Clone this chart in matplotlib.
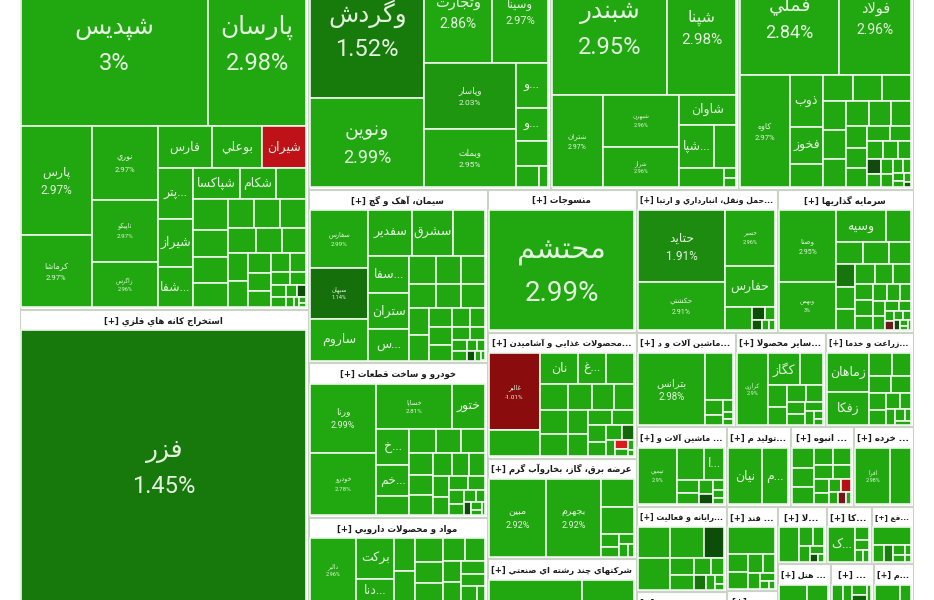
import matplotlib
matplotlib.use("Agg")
import matplotlib.pyplot as plt
from matplotlib.patches import Rectangle
import numpy as np

# ---------------------------------------------------------------
# Data: stock value (market size units) and daily change (%)
# 'h' = children side by side, 'v' = stacked, ('grid', values, pcts) = small unlabeled stocks
# ---------------------------------------------------------------
chem_small_v = [1085, 945, 900, 840, 800, 780, 770, 700, 650, 600, 560, 520, 480, 420,
                380, 340, 300, 260, 220, 180, 150, 120, 100, 80, 60, 40, 30]
chem_small_p = [2.95, 2.9, 2.98, 2.93, 2.9, 2.97, 2.96, 2.9, 2.94, 2.99, 2.92, 2.9, 2.95, 2.88,
                2.97, 2.9, 2.93, 2.96, 2.9, 2.91, 2.98, 2.9, 0.6, 2.9, 2.95, 2.9, 2.9]
metal_small_v = [780, 760, 740, 700, 680, 660, 620, 560, 520, 480, 440, 420, 380, 340,
                 300, 260, 240, 225, 200, 180, 160, 140, 120, 100, 80, 60, 40]
metal_small_p = [2.9, 2.95, 2.97, 2.92, 2.9, 2.96, 2.94, 2.9, 2.98, 2.93, 2.9, 2.95, 2.91, 2.97,
                 2.9, 2.94, 2.9, 0.5, 2.96, 2.9, 2.93, 2.9, 2.95, 2.9, 2.92, 2.9, 0.8]
cement_small_v = [760, 720, 680, 640, 600, 560, 520, 480, 440, 400, 360, 320, 280, 240,
                  200, 170, 140, 110, 90, 70, 50, 40]
cement_small_p = [2.9, 2.95, 2.97, 2.9, 2.93, 2.96, 2.9, 2.94, 2.98, 2.9, 2.92, 2.95, 2.9, 2.97,
                  2.9, 2.93, 2.9, 2.96, 2.9, 0.6, 2.9, 2.9]
food_small_v = [700, 660, 620, 580, 540, 500, 460, 420, 380, 340, 300, 260, 220, 180,
                140, 110, 80, 60, 40]
food_small_p = [2.9, 2.95, 2.97, 2.92, 2.9, 2.96, 2.94, 2.9, 2.98, 2.93, 2.9, 2.95, 2.91, 1.0,
                2.9, -2.9, 2.9, 2.93, 2.9]
auto_small_v = [640, 600, 560, 520, 500, 480, 440, 400, 360, 330, 300, 270, 240, 210,
                180, 150, 120, 100, 80, 60, 40]
auto_small_p = [2.9, 2.95, 2.97, 2.92, 2.9, 2.96, 2.94, 2.9, 2.98, 2.93, 2.9, 2.95, 2.91, 2.97,
                2.9, 2.94, 2.9, 0.5, 2.96, 2.9, 2.93]
pharma_small_v = [680, 660, 640, 560, 520, 480, 440, 400, 360, 320, 280, 240, 120]
pharma_small_p = [2.9, 2.95, 2.97, 2.92, 2.9, 2.96, 2.94, 2.9, 2.98, 2.93, 2.9, 2.95, 2.91]
invest_small_v = [440, 420, 400, 380, 360, 340, 300, 280, 260, 240, 220, 200, 180, 160,
                  140, 120, 100, 90, 80, 70, 60, 50, 40, 30]
invest_small_p = [1.3, 2.9, 2.95, 2.97, 2.92, 2.9, 2.96, 2.94, 2.9, 2.98, 2.93, 2.9, 2.95, 2.91,
                  2.97, 2.9, 2.94, -0.6, 2.9, 2.96, 0.5, 2.9, 2.93, 2.9]
mass_small_v = [400, 380, 340, 300, 280, 240, 220, 200, 160, 140, 120, 100, 80, 60]
mass_small_p = [2.9, 2.95, 2.97, 2.92, 2.9, 2.96, 2.94, 2.9, 2.98, 2.93, -2.2, 2.9, -0.8, 2.9]

chem = ['v',
        ['h', ('شپدیس', 31185, 3.00), ('پارسان', 16335, 2.98)],
        ['h',
         ['v', ('پارس', 7700, 2.97), ('کرماشا', 5100, 2.97)],
         ['v', ('نوري', 4900, 2.97), ('تاپیکو', 4150, 2.97), ('زاگرس', 3000, 2.96)],
         ['v',
          ['h', ('فارس', 2270, 2.95), ('بوعلي', 2100, 2.9), ('شيران', 1850, -2.5)],
          ['h',
           ['v', ('...پتر', 1750, 2.9), ('شيراز', 1680, 2.9), ('...شفا', 1400, 2.9)],
           ['v',
            ['h', ('شپاكسا', 1410, 2.9), ('شكام', 1110, 2.9), ('', 900, 2.9)],
            ('grid', chem_small_v, chem_small_p)]]]]]
mining = ('فزر', 78000, 1.45)
banks = ['h',
         ['v', ('وگردش', 15755, 1.52), ('ونوين', 10235, 2.99)],
         ['v',
          ['h', ('وتجارت', 7004, 2.86), ('وسينا', 5768, 2.97)],
          ['h',
           ['v', ('وپاسار', 5980, 2.03), ('وبملت', 5336, 2.95)],
           ['v', ('...و', 1440, 2.9), ('...و', 1050, 2.9), ('', 810, 2.9),
            ('grid', [500, 200], [2.9, 2.95])]]]]
refinery = ['v',
            ['h', ('شبندر', 15930, 2.95), ('شپنا', 9450, 2.98)],
            ['h', ('شتران', 4836, 2.97),
             ['v', ('شبهرن', 4004, 2.96), ('شراز', 3157, 2.96)],
             ['v', ('شاوان', 1740, 2.9),
              ['h', ('...شپا', 1548, 2.9), ('', 946, 2.9)],
              ['h', ('', 920, 2.9), ('grid', [130, 110], [2.9, 2.94])]]]]
metals = ['v',
          ['h', ('فملي', 11817, 2.84), ('فولاد', 8541, 2.96)],
          ['h', ('کاوه', 5772, 2.97),
           ['v', ('ذوب', 1734, 2.9), ('فخوز', 1258, 2.9), ('', 782, 2.9)],
           ('grid', metal_small_v, metal_small_p)]]
cement = ['h',
          ['v', ('سفارس', 3304, 2.99), ('سبهان', 2950, 1.14), ('ساروم', 2419, 2.9)],
          ['v',
           ['h', ('سفدير', 1936, 2.9), ('سشرق', 1848, 2.9), ('', 1408, 2.9)],
           ['h', ['v', ('...سفا', 1517, 2.9), ('ستران', 1435, 2.9), ('...س', 1271, 2.9)],
            ('grid', cement_small_v, cement_small_p)]]]
textile = ('محتشم', 17500, 2.99)
food = ['h',
        ['v', ('غالبر', 3848, -1.01), ('', 1300, 2.9)],
        ['v', ['h', ('نان', 1140, 2.9), ('...غ', 870, 2.9), ('', 840, 2.9)],
         ('grid', food_small_v, food_small_p)]]
auto = ['h',
        ['v', ('ورنا', 4624, 2.99), ('خودرو', 4216, 2.78)],
        ['v', ['h', ('خساپا', 3496, 2.81), ('ختور', 1518, 2.9)],
         ['h', ['v', ('...خ', 1190, 2.9), ('...خم', 1020, 2.9), ('', 646, 2.9)],
          ('grid', auto_small_v, auto_small_p)]]]
pharma = ['h', ('دالبر', 2914, 2.96),
          ['v', ('برکت', 1520, 2.9), ('...دنا', 836, 2.9)],
          ('grid', pharma_small_v, pharma_small_p)]
power = ['h', ('مبين', 4332, 2.92), ('بجهرم', 4180, 2.92),
         ['v', ('', 891, 2.9), ('', 891, 2.95),
          ('grid', [220, 180, 140, 110, 76], [2.9, 2.96, 2.9, 2.93, 2.9])]]
multi = ['h', ('', 2046, 2.9), ('', 1144, 2.95)]
transport = ['h',
             ['v', ('حتايد', 6090, 1.91), ('حكشتي', 4089, 2.91)],
             ['v', ('حسير', 2700, 2.96), ('حفارس', 2000, 2.9),
              ['h', ('', 621, 2.9), ('grid', [160, 130, 100, 80, 59], [0.6, 2.9, 0.7, 2.9, 2.9])]]]
invest = ['h',
          ['v', ('وصنا', 4130, 2.95), ('وبهمن', 2773, 3.0)],
          ['v', ['h', ('وسيه', 1600, 2.9), ('', 800, 2.9)],
           ['h', ('', 594, 2.9), ('', 572, 2.95), ('', 484, 2.9)],
           ('grid', invest_small_v, invest_small_p)]]
mach1 = ['h', ('بترانس', 4830, 2.98),
         ['v', ('', 1305, 2.9), ('grid', [260, 180, 120, 80, 56], [2.9, 2.95, 2.9, 2.93, 2.9])]]
other = ['h', ('کرازي', 2277, 2.90),
         ['v', ['h', ('کگاز', 1056, 2.9), ('', 768, 2.9)],
          ('grid', [420, 360, 320, 280, 240, 200, 160, 120, 80, 60],
           [2.9, 2.95, 2.97, 2.92, 2.9, 2.96, 2.94, 2.9, 2.98, 2.93])]]
agri = ['h', ['v', ('زماهان', 1628, 2.9), ('زفکا', 1408, 2.9)],
        ('grid', [520, 420, 380, 340, 300, 260, 220, 180, 150, 120, 80, 60],
         [2.9, 2.95, 2.97, 2.92, 2.9, 2.96, 2.94, 2.9, 2.98, 2.93, 2.9, 2.95])]
mach2 = ['h', ('تپمپي', 2255, 2.90),
         ['v', ['h', ('', 868, 2.9), ('...ا', 651, 2.9)],
          ('grid', [300, 250, 200, 150, 120, 90, 66], [2.9, 2.95, 2.97, 0.6, 2.9, 2.96, 2.9])]]
prod = ['h', ('نيان', 1980, 2.9), ('...م', 1540, 2.9)]
mass = ('grid', mass_small_v, mass_small_p)
retail = ['h', ('افرا', 2090, 2.98), ('', 1210, 2.9)]
computer = ['v', ['h', ('', 891, 2.9), ('', 945, 2.95), ('', 540, 0.6)],
            ['h', ('', 924, 2.9),
             ('grid', [380, 320, 260, 200, 160, 120, 80, 48],
              [2.9, 2.95, 2.97, 2.92, 1.2, 2.96, 2.94, 2.9])]]
insurance = ('', 500, 2.9)
sugar = ['v', ('', 1377, 2.9),
         ('grid', [420, 380, 300, 260, 200, 140, 80, 56], [2.9, 2.95, 2.97, 2.92, 2.9, 2.96, 2.94, 2.9])]
mh = ('', 500, 2.9)
la = ['h', ('', 792, 2.9), ('grid', [300, 240, 180, 120, 80, 52], [2.9, 2.95, 2.97, 2.92, 0.6, 2.9])]
ka = ['h', ('...ک', 1080, 2.9), ('grid', [200, 150, 110, 80], [2.9, 2.95, 2.97, 2.92])]
fa = ['v', ('', 756, 2.9), ('grid', [220, 180, 140, 100, 70, 46], [2.9, 1.6, 2.97, 2.92, 2.9, 2.96])]
hotel = ['h', ('', 540, 2.9), ('', 414, 2.95)]
dots = ['h', ('', 200, 2.9), ('', 180, 2.95), ('grid', [160, 120, 80], [2.9, 0.9, 2.9])]
mm = ['h', ('', 504, 2.9), ('', 216, 2.95)]

# sector totals (incl. header strip) and titles
sector_value = {'chem': 100283, 'mining': 84677, 'banks': 55176, 'refinery': 42864,
                'metals': 39900, 'cement': 30788, 'auto': 27566, 'pharma': 15394,
                'textile': 21158, 'food': 18625, 'power': 14900, 'multi': 6705,
                'transport': 20022, 'invest': 19312, 'mach1': 9306, 'other': 8460,
                'agri': 8272, 'mach2': 7110, 'prod': 5056, 'mass': 4977, 'retail': 4740,
                'computer': 7650, 'insurance': 1080, 'sugar': 4284, 'mh': 663,
                'la': 2793, 'ka': 2565, 'fa': 2394, 'hotel': 2120, 'dots': 1720, 'mm': 1600}
sector_title = {'chem': None, 'banks': None, 'refinery': None, 'metals': None,
                'mining': 'استخراج کانه هاي فلزي', 'cement': 'سيمان، آهک و گچ',
                'textile': 'منسوجات', 'food': '...محصولات غذايي و آشاميدن',
                'auto': 'خودرو و ساخت قطعات', 'pharma': 'مواد و محصولات دارويي',
                'power': 'عرضه برق، گاز، بخاروآب گرم', 'multi': 'شرکتهاي چند رشته اي صنعتي',
                'transport': '...حمل ونقل، انبارداري و ارتبا', 'invest': 'سرمايه گذاريها',
                'mach1': '...ماشين آلات و د', 'other': '...ساير محصولا', 'agri': '...زراعت و خدما',
                'mach2': '... ماشين آلات و', 'prod': '...توليد م', 'mass': '... انبوه',
                'retail': '... خرده', 'computer': '...رايانه و فعاليت', 'insurance': '... بيمه وصندوق',
                'sugar': '... قند', 'mh': '...مح', 'la': '...لا', 'ka': '...کا', 'fa': '...فع',
                'hotel': '... هتل', 'dots': '...', 'mm': '...م'}
sector_tree = {'chem': chem, 'mining': mining, 'banks': banks, 'refinery': refinery,
               'metals': metals, 'cement': cement, 'textile': textile, 'food': food,
               'auto': auto, 'pharma': pharma, 'power': power, 'multi': multi,
               'transport': transport, 'invest': invest, 'mach1': mach1, 'other': other,
               'agri': agri, 'mach2': mach2, 'prod': prod, 'mass': mass, 'retail': retail,
               'computer': computer, 'insurance': insurance, 'sugar': sugar, 'mh': mh,
               'la': la, 'ka': ka, 'fa': fa, 'hotel': hotel, 'dots': dots, 'mm': mm}

market = ['h',
          ['v', 'chem', 'mining'],
          ['v',
           ['h', 'banks', 'refinery', 'metals'],
           ['h',
            ['v', 'cement', 'auto', 'pharma'],
            ['v', 'textile', 'food', 'power', 'multi'],
            ['v',
             ['h', 'transport', 'invest'],
             ['h', 'mach1', 'other', 'agri'],
             ['h', 'mach2', 'prod', 'mass', 'retail'],
             ['h', ['v', 'computer', 'insurance'], ['v', 'sugar', 'mh'],
              ['v', ['h', 'la', 'ka', 'fa'], ['h', 'hotel', 'dots', 'mm']]]]]]]

# label font sizes for cells that show ticker + change
label_pt = {'شپدیس': 17, 'پارسان': 17, 'وگردش': 17, 'شبندر': 17, 'محتشم': 20, 'فزر': 17,
            'فملي': 13, 'ونوين': 13, 'شپنا': 11, 'فولاد': 10, 'وتجارت': 10, 'وسينا': 8,
            'پارس': 8.5, 'حتايد': 8.5, 'بترانس': 7, 'ورنا': 6.5, 'مبين': 6.5, 'بجهرم': 6.5,
            'حكشتي': 5, 'وپاسار': 6, 'وبملت': 6, 'کرماشا': 5.5, 'نوري': 5.5, 'تاپیکو': 4.5,
            'زاگرس': 4, 'شتران': 5, 'شبهرن': 4, 'شراز': 4, 'کاوه': 5.5, 'سفارس': 4.5,
            'سبهان': 4, 'خساپا': 4.5, 'خودرو': 4.5, 'دالبر': 4, 'حسير': 4, 'وصنا': 5,
            'وبهمن': 4, 'کرازي': 4, 'تپمپي': 4, 'افرا': 4, 'غالبر': 4.5}

# ---------------------------------------------------------------
# Persian shaping (presentation forms) + right-to-left ordering
# ---------------------------------------------------------------
FORMS = {
    'ا': (0xFE8D, 0xFE8E), 'آ': (0xFE81, 0xFE82), 'أ': (0xFE83, 0xFE84),
    'د': (0xFEA9, 0xFEAA), 'ذ': (0xFEAB, 0xFEAC), 'ر': (0xFEAD, 0xFEAE),
    'ز': (0xFEAF, 0xFEB0), 'ژ': (0xFB8A, 0xFB8B), 'و': (0xFEED, 0xFEEE),
    'ة': (0xFE93, 0xFE94),
    'ب': (0xFE8F, 0xFE90, 0xFE91, 0xFE92), 'پ': (0xFB56, 0xFB57, 0xFB58, 0xFB59),
    'ت': (0xFE95, 0xFE96, 0xFE97, 0xFE98), 'ث': (0xFE99, 0xFE9A, 0xFE9B, 0xFE9C),
    'ج': (0xFE9D, 0xFE9E, 0xFE9F, 0xFEA0), 'چ': (0xFB7A, 0xFB7B, 0xFB7C, 0xFB7D),
    'ح': (0xFEA1, 0xFEA2, 0xFEA3, 0xFEA4), 'خ': (0xFEA5, 0xFEA6, 0xFEA7, 0xFEA8),
    'س': (0xFEB1, 0xFEB2, 0xFEB3, 0xFEB4), 'ش': (0xFEB5, 0xFEB6, 0xFEB7, 0xFEB8),
    'ص': (0xFEB9, 0xFEBA, 0xFEBB, 0xFEBC), 'ض': (0xFEBD, 0xFEBE, 0xFEBF, 0xFEC0),
    'ط': (0xFEC1, 0xFEC2, 0xFEC3, 0xFEC4), 'ظ': (0xFEC5, 0xFEC6, 0xFEC7, 0xFEC8),
    'ع': (0xFEC9, 0xFECA, 0xFECB, 0xFECC), 'غ': (0xFECD, 0xFECE, 0xFECF, 0xFED0),
    'ف': (0xFED1, 0xFED2, 0xFED3, 0xFED4), 'ق': (0xFED5, 0xFED6, 0xFED7, 0xFED8),
    'ک': (0xFB8E, 0xFB8F, 0xFB90, 0xFB91), 'ك': (0xFED9, 0xFEDA, 0xFEDB, 0xFEDC),
    'گ': (0xFB92, 0xFB93, 0xFB94, 0xFB95), 'ل': (0xFEDD, 0xFEDE, 0xFEDF, 0xFEE0),
    'م': (0xFEE1, 0xFEE2, 0xFEE3, 0xFEE4), 'ن': (0xFEE5, 0xFEE6, 0xFEE7, 0xFEE8),
    'ه': (0xFEE9, 0xFEEA, 0xFEEB, 0xFEEC), 'ی': (0xFBFC, 0xFBFD, 0xFBFE, 0xFBFF),
    'ي': (0xFEF1, 0xFEF2, 0xFEF3, 0xFEF4),
}
LAM_ALEF = {'ا': (0xFEFB, 0xFEFC), 'آ': (0xFEF5, 0xFEF6)}


def joins_next(ch):
    return ch in FORMS and len(FORMS[ch]) == 4


def shape(s):
    out = []
    i = 0
    while i < len(s):
        c = s[i]
        if c not in FORMS:
            out.append(c)
            i += 1
            continue
        jp = i > 0 and joins_next(s[i - 1])
        if c == 'ل' and i + 1 < len(s) and s[i + 1] in LAM_ALEF:
            out.append(chr(LAM_ALEF[s[i + 1]][1 if jp else 0]))
            i += 2
            continue
        jn = joins_next(c) and i + 1 < len(s) and s[i + 1] in FORMS
        f = FORMS[c]
        if jp and jn:
            out.append(chr(f[3]))
        elif jp:
            out.append(chr(f[1]))
        elif jn:
            out.append(chr(f[2]))
        else:
            out.append(chr(f[0]))
        i += 1
    return ''.join(out)


def rtl(s):
    if s.startswith('...'):
        return shape(s[3:])[::-1] + '...'
    return shape(s)[::-1]


# ---------------------------------------------------------------
# treemap layout
# ---------------------------------------------------------------
def squarify(vals, x, y, w, h):
    total = float(sum(vals))
    areas = [v * w * h / total for v in vals]
    rects = []
    i = 0
    while i < len(areas):
        short = min(w, h)

        def worst(row):
            s = sum(row)
            return max(max(short * short * a / (s * s), s * s / (short * short * a)) for a in row)

        row = [areas[i]]
        j = i + 1
        while j < len(areas) and worst(row + [areas[j]]) <= worst(row):
            row.append(areas[j])
            j += 1
        s = sum(row)
        if w >= h:
            cw = s / h
            yy = y
            for a in row:
                rects.append((x, yy, cw, a / cw))
                yy += a / cw
            x += cw
            w -= cw
        else:
            rh = s / w
            xx = x
            for a in row:
                rects.append((xx, y, a / rh, rh))
                xx += a / rh
            y += rh
            h -= rh
        i = j
    return rects


def node_value(n):
    if isinstance(n, str):
        return sector_value[n]
    if isinstance(n, tuple):
        return sum(n[1]) if n[0] == 'grid' else n[1]
    return sum(node_value(k) for k in n[1:])


def split(n, x, y, w, h, leaf_fn):
    if isinstance(n, (str, tuple)):
        leaf_fn(n, x, y, w, h)
        return
    kids = n[1:]
    tot = float(sum(node_value(k) for k in kids))
    for k in kids:
        f = node_value(k) / tot
        if n[0] == 'h':
            split(k, x, y, w * f, h, leaf_fn)
            x += w * f
        else:
            split(k, x, y, w, h * f, leaf_fn)
            y += h * f


def pct_color(p):
    stops = [-3, -2.5, -1, 0, 0.6, 1.2, 1.5, 1.9, 2.2, 3]
    r = [222, 190, 139, 50, 12, 22, 23, 28, 33, 33]
    g = [30, 18, 12, 50, 78, 116, 122, 138, 166, 168]
    b = [30, 24, 12, 50, 8, 12, 11, 16, 16, 16]
    return (np.interp(p, stops, r) / 255, np.interp(p, stops, g) / 255, np.interp(p, stops, b) / 255)


fig = plt.figure(figsize=(9.34, 6.0), dpi=100)
ax = fig.add_axes([0, 0, 1, 1])
ax.set_xlim(0, 934)
ax.set_ylim(600, 0)
ax.axis('off')
renderer = fig.canvas.get_renderer()

TXT = '#e4f2e0'
CELL_FONT = ['Roboto', 'DejaVu Sans']


def draw_cell(n, x, y, w, h):
    if n[0] == 'grid':
        for (rx, ry, rw, rh), p in zip(squarify(n[1], x, y, w, h), n[2]):
            ax.add_patch(Rectangle((rx, ry), rw, rh, facecolor=pct_color(p),
                                   edgecolor='#eef5ec', lw=1.2))
        return
    name, val, p = n
    ax.add_patch(Rectangle((x, y), w, h, facecolor=pct_color(p), edgecolor='#eef5ec', lw=1.2))
    if not name:
        return
    cx, cy = x + w / 2, y + h / 2
    if name in label_pt:
        fs = label_pt[name]
        px = fs * 100 / 72.0
        ax.text(cx, cy - 0.66 * px, rtl(name), ha='center', va='center', fontsize=fs * 1.05,
                color=TXT, family=CELL_FONT, clip_on=True)
        ax.text(cx, cy + 0.85 * px, '%g%%' % p, ha='center', va='center', fontsize=fs,
                color=TXT, family=CELL_FONT, clip_on=True)
    else:
        ax.text(cx, cy, rtl(name), ha='center', va='center', fontsize=9,
                color=TXT, family=CELL_FONT, clip_on=True)


def draw_sector(key, x, y, w, h):
    ax.add_patch(Rectangle((x + 0.5, y + 0.5), w - 1, h - 1, facecolor='white',
                           edgecolor='#c9d3c6', lw=0.8))
    title = sector_title[key]
    if title is None:
        cx, cy, cw, ch = x + 2, y, w - 4, h - 2
    else:
        t = ax.text(x + w / 2, y + 11.5, '[+] ' + rtl(title), ha='center', va='center',
                    fontsize=6.2, fontweight='bold', family=['DejaVu Sans'], color='#1c1c1c',
                    clip_on=True)
        tw = t.get_window_extent(renderer).width
        if tw > w - 8:
            t.set_fontsize(6.2 * (w - 8) / tw)
        cx, cy, cw, ch = x + 2, y + 21, w - 4, h - 23
    if ch <= 1:
        return
    split(sector_tree[key], cx, cy, cw, ch, draw_cell)


# outer map area; the top row and bottom edge run past the visible frame
split(market, 19, -40, 894, 644, draw_sector)

fig.savefig('out.png', dpi=100, facecolor='white')
